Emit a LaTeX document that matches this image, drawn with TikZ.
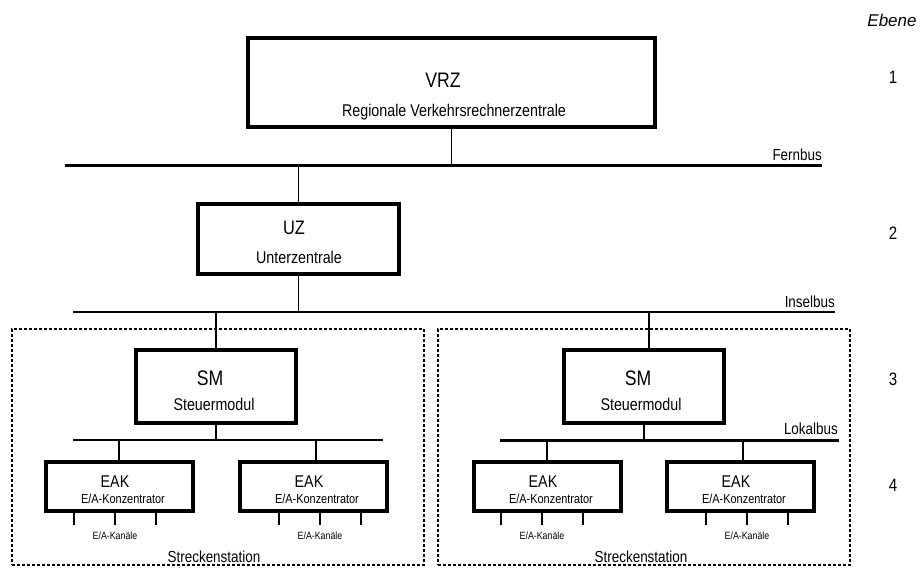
\documentclass[tikz,border=0pt]{standalone}
\usepackage{fontspec}
\setmainfont{Liberation Sans}[FakeStretch=0.84]
\newfontfamily\widesans{Liberation Sans}
\usetikzlibrary{positioning}

\tikzset{
  unit/.style={draw, line width=4pt, inner sep=0pt},
  station/.style={draw, line width=1.5pt, dash pattern=on 3pt off 2pt, inner sep=0pt},
  link/.style={line width=1.5pt},
  heavybus/.style={line width=3pt},
  lightbus/.style={line width=2pt},
  abbrtext/.style={font=\fontsize{20}{24}\selectfont, inner sep=0pt, anchor=base},
  desctext/.style={font=\fontsize{17}{20}\selectfont, inner sep=0pt, anchor=base},
  bustext/.style={font=\fontsize{16}{19}\selectfont, inner sep=0pt, anchor=base east},
  eaktext/.style={font=\fontsize{13}{15}\selectfont, inner sep=0pt, anchor=base},
  kanaltext/.style={font=\fontsize{10.5}{12}\selectfont, inner sep=0pt, anchor=base},
  leveltext/.style={font=\fontsize{18}{21}\selectfont, inner sep=0pt, anchor=base}
}

\begin{document}
\begin{tikzpicture}[x=1pt, y=-1pt]
\useasboundingbox (0,0) rectangle (921,568);

% Ebene 1
\node [unit, minimum width=407pt, minimum height=89pt] (vrz) at (451.5,82.5) {};
\node [abbrtext, font=\fontsize{21}{25}\selectfont] (vrz_t) at (443,87.5) {VRZ};
\node [desctext] (vrz_d) at (454,116) {Regionale Verkehrsrechnerzentrale};

\coordinate (fern_w) at (65,165);
\coordinate (fern_e) at (822,165);
\draw [heavybus] (fern_w) -- (fern_e);
\node [bustext] (fern_lbl) at (822,160.5) {Fernbus};

% Ebene 2
\node [unit, minimum width=201pt, minimum height=70pt] (uz) at (298.5,239) {};
\node [abbrtext, font=\fontsize{19.5}{23}\selectfont] (uz_t) at (294,234) {UZ};
\node [desctext] (uz_d) at (299,263) {Unterzentrale};

\coordinate (insel_w) at (73,312);
\coordinate (insel_e) at (835,312);
\draw [lightbus] (insel_w) -- (insel_e);
\node [bustext] (insel_lbl) at (835,307.5) {Inselbus};

\draw [link] (vrz.south) -- (vrz.south |- fern_w);
\draw [link] (uz.north |- fern_w) -- (uz.north);
\draw [link] (uz.south) -- (uz.south |- insel_w);

% Streckenstationen
\node [station, minimum width=412pt, minimum height=236pt] (st_l) at (218,447) {};
\node [station, minimum width=412pt, minimum height=236pt] (st_r) at (644,447) {};
\node [desctext, font=\fontsize{16}{19}\selectfont] (st_l_t) at ([xshift=-4pt,yshift=3pt]st_l.south) {Streckenstation};
\node [desctext, font=\fontsize{16}{19}\selectfont] (st_r_t) at ([xshift=-3pt,yshift=3pt]st_r.south) {Streckenstation};

% Ebene 3
\node [unit, minimum width=160pt, minimum height=73pt] (sm_l) at (216,386.5) {};
\node [unit, minimum width=160pt, minimum height=73pt] (sm_r) at (644,386.5) {};
\node [abbrtext, font=\fontsize{21}{25}\selectfont] (sm_l_t) at (210,385.5) {SM};
\node [desctext] (sm_l_d) at (214,410) {Steuermodul};
\node [abbrtext, font=\fontsize{21}{25}\selectfont] (sm_r_t) at (638,385.5) {SM};
\node [desctext] (sm_r_d) at (641,410) {Steuermodul};

\draw [link] (sm_l.north |- insel_w) -- (sm_l.north);
\draw [link] ([xshift=5pt]sm_r.north |- insel_w) -- ([xshift=5pt]sm_r.north);

\coordinate (lok_l_w) at (73,440);
\coordinate (lok_l_e) at (383,440);
\coordinate (lok_r_w) at (500,440);
\coordinate (lok_r_e) at (839,440);
\draw [lightbus] (lok_l_w) -- (lok_l_e);
\draw [heavybus] (lok_r_w) -- (lok_r_e);
\node [bustext] (lok_lbl) at (838,434.5) {Lokalbus};

\draw [link] (sm_l.south) -- (sm_l.south |- lok_l_w);
\draw [link] (sm_r.south) -- (sm_r.south |- lok_r_w);

% Ebene 4
\node [unit, minimum width=147pt, minimum height=49pt] (eak1) at (119,486.5) {};
\node [unit, minimum width=147pt, minimum height=49pt] (eak2) at (313,486.5) {};
\node [unit, minimum width=147pt, minimum height=49pt] (eak3) at (547,486.5) {};
\node [unit, minimum width=147pt, minimum height=49pt] (eak4) at (740,486.5) {};

\draw [link] (eak1.north |- lok_l_w) -- (eak1.north);
\draw [link] ([xshift=3pt]eak2.north |- lok_l_w) -- ([xshift=3pt]eak2.north);
\draw [link] (eak3.north |- lok_r_w) -- (eak3.north);
\draw [link] ([xshift=3pt]eak4.north |- lok_r_w) -- ([xshift=3pt]eak4.north);

\foreach \e/\off in {eak1/-4, eak2/7, eak3/-5, eak4/7} {
  \node [abbrtext, font=\fontsize{17}{20}\selectfont] (\e_t) at ([xshift=-4pt,yshift=-0.5pt]\e.center) {EAK};
  \node [eaktext] (\e_d) at ([xshift=4pt,yshift=-17pt]\e.center) {E/A-Konzentrator};
  \node [kanaltext] (\e_k) at ([xshift=\off pt,yshift=-26pt]\e.south) {E/A-Kanäle};
  \foreach \dx in {-41,0,41}
    \draw [link] ([xshift=\off pt+\dx pt]\e.south) -- ++(0,12);
}

% Ebenen
\node [leveltext, font=\fontsize{17}{20}\selectfont\widesans\itshape] (ebene) at (892,26) {Ebene};
\node [leveltext] (lvl1) at (893,83.5) {1};
\node [leveltext] (lvl2) at (893,239.5) {2};
\node [leveltext] (lvl3) at (893,385.5) {3};
\node [leveltext] (lvl4) at (893,491.5) {4};

\end{tikzpicture}
\end{document}
